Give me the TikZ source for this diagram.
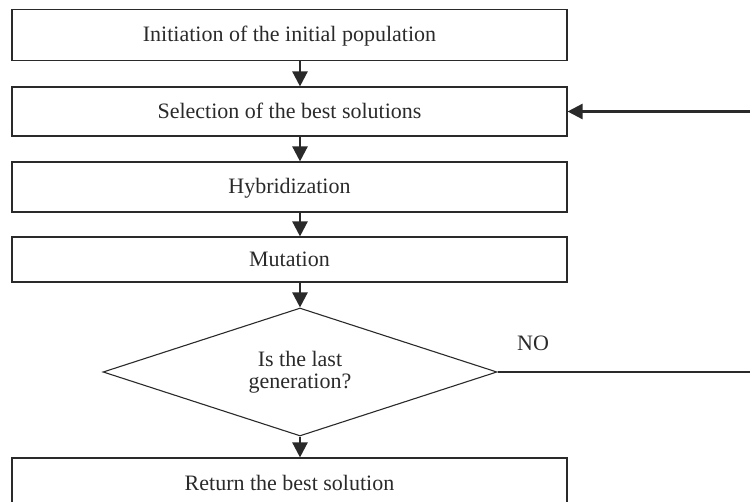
\documentclass[tikz,border=0pt]{standalone}
\usepackage{fontspec}
\setmainfont{Liberation Serif}
\usetikzlibrary{shapes.geometric,arrows.meta}
\definecolor{ln}{HTML}{2A2A2A}
\begin{document}
\begin{tikzpicture}[x=1pt,y=1pt,
  every node/.style={font=\fontsize{22}{25}\selectfont, text=ln},
  procbox/.style={draw=ln, line width=1.1pt, minimum width=555pt, inner sep=0pt,
     text height=16pt, text depth=2pt},
  decbox/.style={draw=ln, line width=1.1pt, shape=diamond, aspect=3.08,
     minimum width=394pt, minimum height=128pt, inner sep=0pt, align=center,
     font=\fontsize{22}{22.5}\selectfont},
  flowarrow/.style={draw=ln, line width=2.4pt, -{Triangle[width=15pt,length=15pt]}},
  thinline/.style={draw=ln, line width=1.2pt}
]
\useasboundingbox (0,0) rectangle (750,501);
\coordinate (ax) at (300,0);
\node[procbox, minimum height=51pt] (b1) at (289.5,466) {Initiation of the initial population};
\node[procbox, minimum height=49pt] (b2) at (289.5,389.5) {Selection of the best solutions};
\node[procbox, minimum height=50pt] (b3) at (289.5,314) {Hybridization};
\node[procbox, minimum height=45pt] (b4) at (289.5,241.5) {Mutation};
\node[decbox] (d) at (300,129) {Is the last\\generation?};
\node[procbox, minimum height=51pt] (b5) at (289.5,17.5) {Return the best solution};
\node (no) at (533,158) {NO};
\coordinate (r1) at (760,129);
\coordinate (r2) at (760,389.5);

\draw[flowarrow] (b1.south -| ax) -- (b2.north -| ax);
\draw[flowarrow] (b2.south -| ax) -- (b3.north -| ax);
\draw[flowarrow] (b3.south -| ax) -- (b4.north -| ax);
\draw[flowarrow] (b4.south -| ax) -- (d.north);
\draw[flowarrow] (d.south) -- (b5.north -| ax);
\draw[thinline] (d.east) -- (r1) -- (r2);
\draw[flowarrow] (r2) -- (b2.east);
\end{tikzpicture}
\end{document}
